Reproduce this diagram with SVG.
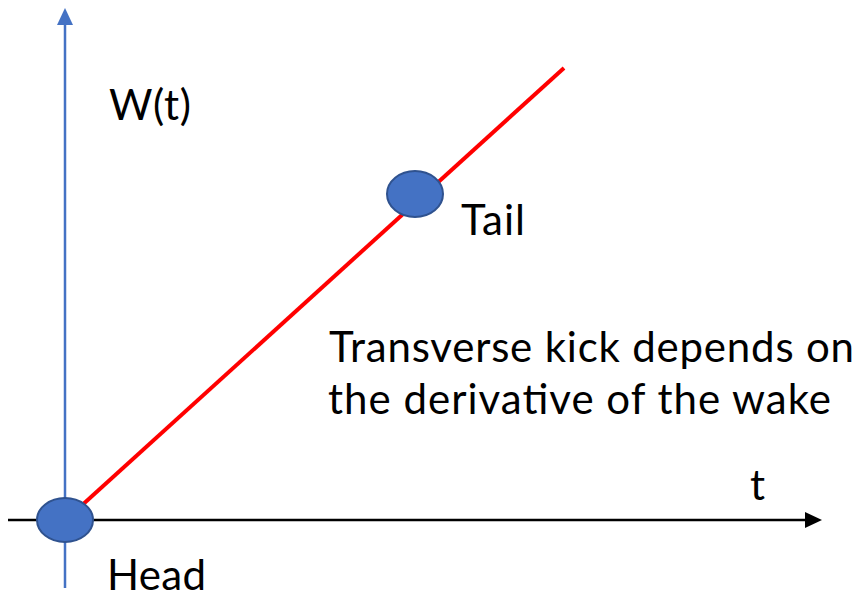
<svg xmlns="http://www.w3.org/2000/svg" width="864" height="598" viewBox="0 0 864 598">
<style>
text{font-family:Lato,"Liberation Sans",sans-serif;font-size:42px;fill:#000}
.bead{fill:#4472C4;stroke:#2F528F;stroke-width:2}
</style>
<rect width="864" height="598" fill="#fff"/>
<g id="connectors">
<line x1="65" y1="588" x2="65" y2="22" stroke="#4472C4" stroke-width="2.5"/>
<polygon points="65,8 57,25 73,25" fill="#4472C4"/>
<line x1="8" y1="520" x2="808" y2="520" stroke="#000" stroke-width="2.5"/>
<polygon points="822,520 805,512 805,528" fill="#000"/>
<line x1="80" y1="507" x2="564" y2="68" stroke="#FF0000" stroke-width="4"/>
</g>
<g id="head"><ellipse class="bead" cx="65" cy="520" rx="28" ry="22"/><text x="107" y="590" textLength="99">Head</text></g>
<g id="tail"><ellipse class="bead" cx="415" cy="194" rx="28" ry="23"/><text x="461" y="235" textLength="64">Tail</text></g>
<g id="labels">
<text x="109" y="120" textLength="82">W(t)</text>
<text x="750" y="500">t</text>
<text x="329" y="362" textLength="525">Transverse kick depends on</text>
<text x="328" y="414" textLength="503">the derivative of the wake</text>
</g>
</svg>
